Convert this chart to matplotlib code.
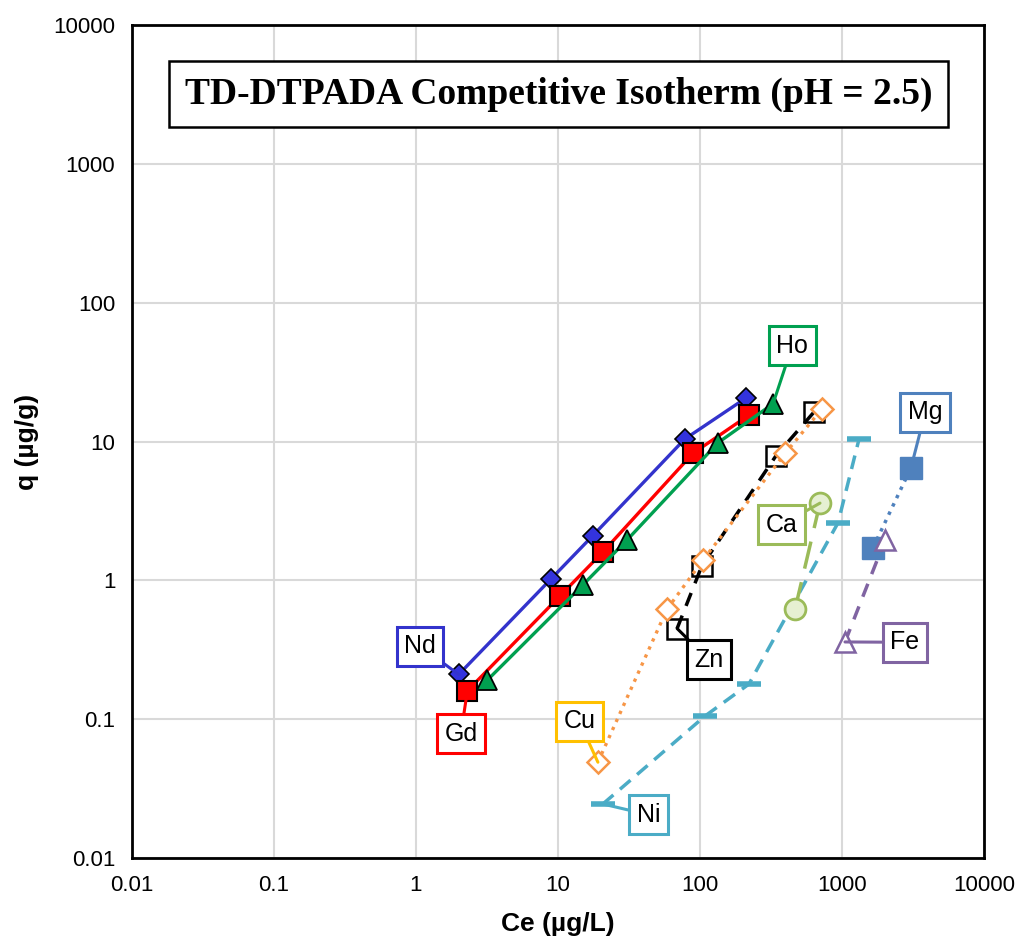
import matplotlib
matplotlib.use("Agg")
from matplotlib import pyplot as plt
from matplotlib import ticker

plt.rcParams['font.family'] = ['Liberation Sans', 'DejaVu Sans']

# 数据 (Ce, q)
nd_ce = [2.0, 8.9, 17.6, 78, 211]
nd_q = [0.21, 1.02, 2.1, 10.4, 20.6]
gd_ce = [2.3, 10.3, 20.7, 89, 221]
gd_q = [0.16, 0.77, 1.6, 8.2, 15.5]
ho_ce = [3.16, 15.0, 30.6, 134, 327]
ho_q = [0.19, 0.93, 1.95, 9.8, 18.7]
zn_ce = [69, 103, 343, 635]
zn_q = [0.45, 1.27, 7.9, 16.3]
cu_ce = [19.1, 58.6, 105, 397, 723]
cu_q = [0.049, 0.62, 1.40, 8.2, 17.2]
ni_ce = [20.7, 108, 221, 938, 1318]
ni_q = [0.0245, 0.105, 0.179, 2.6, 10.4]
ca_ce = [467, 700]
ca_q = [0.62, 3.6]
mg_ce = [1650, 3060]
mg_q = [1.71, 6.46]
fe_ce = [1050, 2010]
fe_q = [0.36, 1.95]

title = "TD-DTPADA Competitive Isotherm (pH = 2.5)"

fig = plt.figure(figsize=(10.2, 9.4), dpi=100)
ax = fig.add_axes([0.1294, 0.0872, 0.8353, 0.8862])
ax.set_xscale("log")
ax.set_yscale("log")
ax.set_xlim(0.01, 10000)
ax.set_ylim(0.01, 10000)

# 绘图
ax.plot(nd_ce, nd_q, '-', color='#3333CC', lw=2.4, marker='D', ms=10, mfc='#3333DD', mec='black', mew=1.2, zorder=5)
ax.plot(gd_ce, gd_q, '-', color='#FF0000', lw=2.4, marker='s', ms=15, mfc='#FF0000', mec='black', mew=1.5, zorder=5)
ax.plot(ho_ce, ho_q, '-', color='#00A050', lw=2.4, marker='^', ms=14, mfc='#00A050', mec='black', mew=1.3, zorder=5)
ax.plot(zn_ce, zn_q, '--', color='black', lw=2.5, dashes=(4, 3), marker='s', ms=15, mfc='none', mec='black', mew=1.8, zorder=4)
ax.plot(cu_ce, cu_q, ':', color='#F79646', lw=2.4, marker='D', ms=11, mfc='white', mec='#F79646', mew=1.8, zorder=4)
ax.plot(ni_ce, ni_q, '--', color='#4BACC6', lw=2.5, dashes=(4, 2.5), marker='_', ms=17, mec='#4BACC6', mew=4, zorder=4)
ax.plot(ca_ce, ca_q, '-', color='#9BBB59', lw=2.5, dashes=(8, 4), marker='o', ms=15, mfc='#E6F0D2', mec='#9BBB59', mew=2, zorder=4)
ax.plot(mg_ce, mg_q, ':', color='#4F81BD', lw=2.5, marker='s', ms=16, mfc='#4F81BD', mec='#4F81BD', zorder=4)
ax.plot(fe_ce, fe_q, '--', color='#8064A2', lw=2.5, dashes=(4, 3), marker='^', ms=15, mfc='white', mec='#8064A2', mew=1.8, zorder=4)

# 标注
labels = [
    ("Nd", nd_ce[0], nd_q[0], 0.338, 0.2545, '#3333CC'),
    ("Gd", gd_ce[0], gd_q[0], 0.386, 0.149, '#FF0000'),
    ("Ho", ho_ce[-1], ho_q[-1], 0.775, 0.615, '#00A050'),
    ("Zn", zn_ce[0], zn_q[0], 0.677, 0.238, 'black'),
    ("Cu", cu_ce[0], cu_q[0], 0.525, 0.164, '#FFC000'),
    ("Ni", ni_ce[0], ni_q[0], 0.606, 0.052, '#4BACC6'),
    ("Ca", ca_ce[-1], ca_q[-1], 0.762, 0.400, '#9BBB59'),
    ("Mg", mg_ce[-1], mg_q[-1], 0.931, 0.535, '#4F81BD'),
    ("Fe", fe_ce[0], fe_q[0], 0.907, 0.259, '#8064A2'),
]
for name, x, y, fx, fy, c in labels:
    ax.annotate(name, xy=(x, y), xycoords='data', xytext=(fx, fy), textcoords='axes fraction',
                ha='center', va='center', fontsize=18, zorder=6,
                bbox=dict(boxstyle='square,pad=0.3', fc='white', ec=c, lw=2.2),
                arrowprops=dict(arrowstyle='-', color=c, lw=2.2, shrinkA=0, shrinkB=0))

ax.text(0.501, 0.917, title, transform=ax.transAxes, ha='center', va='center',
        fontsize=27, fontweight='bold', family='Liberation Serif', zorder=6,
        bbox=dict(boxstyle='square,pad=0.42', fc='white', ec='black', lw=1.8))

ax.xaxis.set_major_locator(ticker.LogLocator(base=10, numticks=10))
ax.yaxis.set_major_locator(ticker.LogLocator(base=10, numticks=10))
ax.xaxis.set_minor_locator(ticker.NullLocator())
ax.yaxis.set_minor_locator(ticker.NullLocator())
fmt = ticker.FuncFormatter(lambda v, p: "{:g}".format(v))
ax.xaxis.set_major_formatter(fmt)
ax.yaxis.set_major_formatter(fmt)
ax.tick_params(length=0, labelsize=16, pad=12)
ax.grid(True, color='#D9D9D9', lw=1.5)
ax.set_axisbelow(True)
for s in ax.spines.values():
    s.set_linewidth(2)
    s.set_color('black')

ax.set_xlabel("Ce (µg/L)", fontsize=19, fontweight='bold', labelpad=12)
ax.set_ylabel("q (µg/g)", fontsize=19, fontweight='bold', labelpad=10)

fig.savefig("out.png", dpi=100)
